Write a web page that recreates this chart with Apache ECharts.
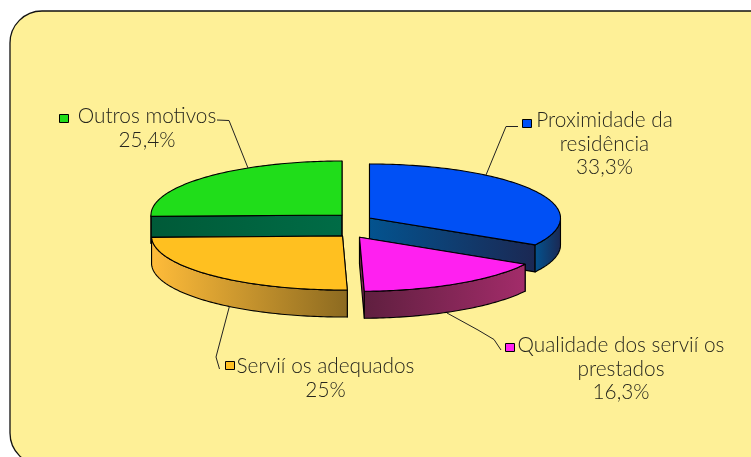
<!DOCTYPE html>
<html>
<head>
<meta charset="utf-8">
<style>
  html, body { margin: 0; padding: 0; background: #fff; }
  #chart { width: 751px; height: 457px; }
</style>
<script src="https://cdn.jsdelivr.net/npm/echarts@6/dist/echarts.min.js"></script>
</head>
<body>
<div id="chart"></div>
<script>
// values, clockwise from 12 o'clock
var categories = ["Proximidade da\nresidência", "Qualidade dos servií os\nprestados", "Servií os adequados", "Outros motivos"];
var values = [33.3, 16.3, 25, 25.4];

var topColors = ["#0050f5", "#ff20f0", "#ffc020", "#20dd1a"];
var sideColors = [
  ["#03538f", "#1b2853"],
  ["#5f1f3f", "#a32c6a"],
  ["#ffbc3a", "#8c6a20"],
  ["#005a38", "#006c46"]
];

var RX = 191, RY = 54, DEPTH = 27;
// where each exploded slice sits, its stacking and its label
var layout = [
  {
    cx: 369.5, cy: 218, z: 2,
    labelX: 604.5, labelY: 121, key: [522, 119],
    leader: [[518, 126.5], [506, 126.5], [486, 175]]
  },
  {
    cx: 359.5, cy: 237.3, z: 4,
    labelX: 621, labelY: 346, key: [505, 343],
    leader: [[447, 313], [478, 330], [494, 339.5], [501, 350]]
  },
  {
    cx: 342.5, cy: 236, z: 3,
    labelX: 325.5, labelY: 367, key: [225, 361],
    leader: [[229.5, 306], [216, 357], [219.5, 369]]
  },
  {
    cx: 342, cy: 215, z: 1,
    labelX: 147, labelY: 117, key: [59, 114],
    leader: [[217, 120], [229, 120.5], [248, 168]]
  }
];

var FONT = "Lato, 'Open Sans', sans-serif";
var total = values.reduce(function (a, b) { return a + b; }, 0);

function rimPoint(s, deg, drop) {
  var t = deg * Math.PI / 180;
  return [s.cx + RX * Math.sin(t), s.cy - RY * Math.cos(t) + (drop || 0)];
}

function formatPercent(v) {
  return String(v).replace(".", ",") + "%";
}

function renderSlice(params, api) {
  var i = params.dataIndex;
  var s = layout[i];
  var before = 0;
  for (var k = 0; k < i; k++) before += values[k];
  var a0 = before / total * 360;
  var a1 = (before + values[i]) / total * 360;

  var wallFill = new echarts.graphic.LinearGradient(0, 0, 1, 0, [
    { offset: 0, color: sideColors[i][0] },
    { offset: 1, color: sideColors[i][1] }
  ]);
  var edge = { stroke: "#000", lineWidth: 1.1, lineJoin: "round" };
  var children = [];

  function quad(deg) {
    var p = rimPoint(s, deg);
    return [[s.cx, s.cy], p, [p[0], p[1] + DEPTH], [s.cx, s.cy + DEPTH]];
  }
  children.push({ type: "polygon", z2: s.z, shape: { points: quad(a0) }, style: Object.assign({ fill: wallFill }, edge) });
  children.push({ type: "polygon", z2: s.z, shape: { points: quad(a1) }, style: Object.assign({ fill: wallFill }, edge) });

  // outer wall, only the part that faces the viewer
  var wa = Math.max(a0, 90), wb = Math.min(a1, 270);
  if (wb > wa) {
    var upper = [], lower = [];
    for (var d = wa; d < wb; d += 1) {
      upper.push(rimPoint(s, d));
      lower.unshift(rimPoint(s, d, DEPTH));
    }
    upper.push(rimPoint(s, wb));
    lower.unshift(rimPoint(s, wb, DEPTH));
    children.push({ type: "polygon", z2: s.z, shape: { points: upper.concat(lower) }, style: Object.assign({ fill: wallFill }, edge) });
  }

  var top = [[s.cx, s.cy]];
  for (var e = a0; e < a1; e += 1) top.push(rimPoint(s, e));
  top.push(rimPoint(s, a1));
  children.push({ type: "polygon", z2: s.z, shape: { points: top }, style: Object.assign({ fill: topColors[i] }, edge) });

  children.push({
    type: "polyline", z2: 10,
    shape: { points: s.leader },
    style: { fill: null, stroke: "#222", lineWidth: 1 }
  });
  children.push({
    type: "rect", z2: 10,
    shape: { x: s.key[0] + 0.5, y: s.key[1] + 0.5, width: 9, height: 8 },
    style: { fill: topColors[i], stroke: "#000", lineWidth: 1, lineJoin: "miter" }
  });
  children.push({
    type: "text", z2: 10,
    style: {
      x: s.labelX, y: s.labelY - 12,
      text: categories[i] + "\n" + formatPercent(values[i]),
      align: "center", verticalAlign: "top",
      font: "300 20.8px " + FONT, lineHeight: 23.5, fill: "#26261e"
    }
  });
  return { type: "group", children: children };
}

var chart = echarts.init(document.getElementById("chart"), null, { renderer: "canvas" });
chart.setOption({
  animation: false,
  backgroundColor: "#ffffff",
  graphic: [{
    type: "rect", z: -1,
    shape: { x: 10, y: 11, width: 800, height: 454, r: 32 },
    style: { fill: "#fef097", stroke: "#111", lineWidth: 1.3 }
  }],
  series: [{
    type: "custom",
    coordinateSystem: "none",
    renderItem: renderSlice,
    data: values
  }]
});
</script>
</body>
</html>
